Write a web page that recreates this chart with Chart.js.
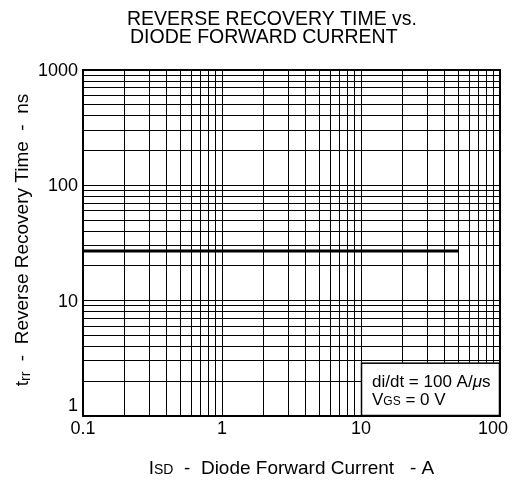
<!DOCTYPE html>
<html>
<head>
<meta charset="utf-8">
<script src="https://cdn.jsdelivr.net/npm/chart.js@4"></script>
<style>
  html, body { margin: 0; padding: 0; background: #fff; }
  #wrap { width: 512px; height: 483px; }
</style>
</head>
<body>
<div id="wrap"><canvas id="trrChart" width="512" height="483"></canvas></div>
<script>
// Data
const diodeCurrent = [0.1, 50];     // A
const recoveryTime = [27, 27];      // ns
const xTickLabels = ['0.1', '1', '10', '100'];
const yTickLabels = ['1', '10', '100', '1000'];
const titleLines = ['REVERSE RECOVERY TIME vs.', 'DIODE FORWARD CURRENT'];

const FONT = '"Liberation Sans", Arial, sans-serif';

// full log grid: 1..9 in every decade between min and max
function logGrid(min, max) {
  const out = [];
  for (let d = Math.log10(min); d < Math.log10(max); d++) {
    for (let m = 1; m < 10; m++) out.push(+(m * Math.pow(10, d)).toPrecision(3));
  }
  out.push(max);
  return out;
}

// text runs: {text, sub, drop, italic}
function runFont(p, size) {
  return (p.italic ? 'italic ' : '') + (p.sub ? Math.round(size * 0.72) : size) + 'px ' + FONT;
}

function drawRich(ctx, parts, x, y, size) {
  parts.forEach((p) => {
    ctx.font = runFont(p, size);
    ctx.fillText(p.text, x, y + (p.drop || 0));
    x += ctx.measureText(p.text).width;
  });
}

function richWidth(ctx, parts, size) {
  let w = 0;
  parts.forEach((p) => {
    ctx.font = runFont(p, size);
    w += ctx.measureText(p.text).width;
  });
  return w;
}

const textPlugin = {
  id: 'texts',
  afterDraw(chart) {
    const ctx = chart.ctx;
    const area = chart.chartArea;
    const xs = chart.scales.x, ys = chart.scales.y;
    ctx.save();
    ctx.fillStyle = '#000';
    ctx.textBaseline = 'alphabetic';
    ctx.textAlign = 'left';

    // title
    ctx.font = '19.5px ' + FONT;
    ctx.fillText(titleLines[0], 127, 25);
    ctx.fillText(titleLines[1], 130, 43);

    // x tick labels (last one kept inside the canvas)
    ctx.font = '18px ' + FONT;
    xTickLabels.forEach((lbl) => {
      const w = ctx.measureText(lbl).width;
      let cx = xs.getPixelForValue(parseFloat(lbl));
      cx = Math.min(cx, chart.width - 4 - w / 2);
      ctx.fillText(lbl, cx - w / 2, area.bottom + 18);
    });

    // y tick labels (bottom one lifted clear of the x labels)
    ctx.textAlign = 'right';
    ctx.textBaseline = 'middle';
    yTickLabels.forEach((lbl) => {
      let cy = ys.getPixelForValue(parseFloat(lbl));
      cy = Math.min(cy, area.bottom - 11);
      ctx.fillText(lbl, area.left - 5, cy + 1);
    });
    ctx.textAlign = 'left';
    ctx.textBaseline = 'alphabetic';

    // x axis title
    const xParts = [
      { text: 'I' }, { text: 'SD', sub: true },
      { text: '  -  Diode Forward Current   - A' }
    ];
    const xw = richWidth(ctx, xParts, 19);
    drawRich(ctx, xParts, (area.left + area.right) / 2 - xw / 2, 474, 19);

    // y axis title (rotated)
    const yParts = [
      { text: 't' }, { text: 'rr', sub: true, drop: 2 },
      { text: '  -  Reverse Recovery Time  -  ns' }
    ];
    const yw = richWidth(ctx, yParts, 19);
    ctx.save();
    ctx.translate(28, (area.top + area.bottom) / 2 - 3);
    ctx.rotate(-Math.PI / 2);
    drawRich(ctx, yParts, -yw / 2, 0, 19);
    ctx.restore();

    // condition box in lower right corner
    const bx = xs.getPixelForValue(10);
    const by = ys.getPixelForValue(2.9);
    ctx.fillStyle = '#fff';
    ctx.fillRect(bx, by, area.right - bx, area.bottom - by);
    ctx.strokeStyle = '#000';
    ctx.lineWidth = 1.5;
    ctx.strokeRect(bx + 0.5, by + 0.5, area.right - bx - 1, area.bottom - by - 1);
    ctx.fillStyle = '#000';
    drawRich(ctx, [{ text: 'di/dt = 100 A/' }, { text: '\u03bc', italic: true }, { text: 's' }], bx + 11, by + 24, 17);
    drawRich(ctx, [{ text: 'V' }, { text: 'GS', sub: true }, { text: ' = 0 V' }], bx + 11, by + 42, 17);

    // plot frame
    ctx.lineWidth = 2;
    ctx.strokeRect(area.left, area.top, area.right - area.left, area.bottom - area.top);
    ctx.restore();
  }
};

const ctx = document.getElementById('trrChart').getContext('2d');
const myChart = new Chart(ctx, {
  type: 'scatter',
  data: {
    datasets: [{
      data: diodeCurrent.map((x, i) => ({ x: x, y: recoveryTime[i] })),
      showLine: true,
      borderColor: '#000',
      borderWidth: 3,
      pointRadius: 0
    }]
  },
  options: {
    responsive: false,
    animation: false,
    layout: { padding: { left: 0, top: 70, right: 12, bottom: 0 } },
    plugins: { legend: { display: false }, tooltip: { enabled: false } },
    scales: {
      x: {
        type: 'logarithmic',
        min: 0.1,
        max: 100,
        afterBuildTicks: (scale) => { scale.ticks = logGrid(0.1, 100).map((v) => ({ value: v })); },
        afterFit: (scale) => { scale.height = 67; scale.paddingLeft = 0; scale.paddingRight = 0; },
        grid: { color: '#000', lineWidth: 1, drawTicks: false },
        border: { color: '#000', width: 2 },
        ticks: { display: false }
      },
      y: {
        type: 'logarithmic',
        min: 1,
        max: 1000,
        afterBuildTicks: (scale) => { scale.ticks = logGrid(1, 1000).map((v) => ({ value: v })); },
        afterFit: (scale) => { scale.width = 83; scale.paddingTop = 0; scale.paddingBottom = 0; },
        grid: { color: '#000', lineWidth: 1, drawTicks: false },
        border: { color: '#000', width: 2 },
        ticks: { display: false }
      }
    }
  },
  plugins: [textPlugin]
});
</script>
</body>
</html>
